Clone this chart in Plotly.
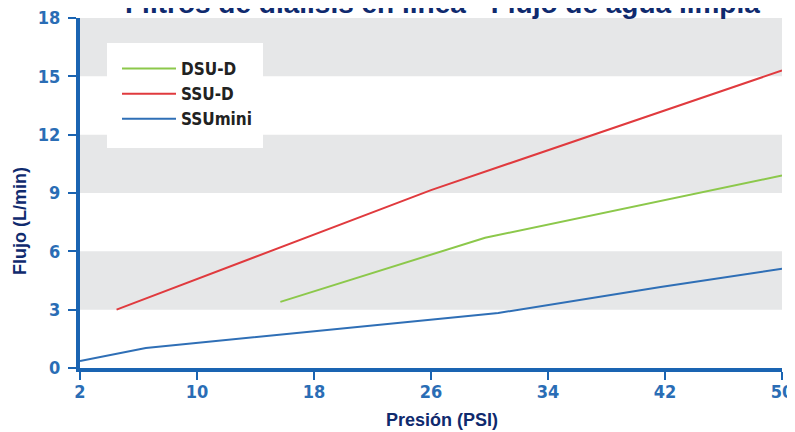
import plotly.graph_objects as go

# Data
ssud_x = [4.5, 26, 50]
ssud_y = [3.0, 9.15, 15.3]
dsud_x = [15.7, 29.7, 50]
dsud_y = [3.4, 6.7, 9.9]
mini_x = [2, 6.5, 30.6, 41.7, 50]
mini_y = [0.36, 1.03, 2.83, 4.17, 5.1]

x_ticks = [2, 10, 18, 26, 34, 42, 50]
y_ticks = [0, 3, 6, 9, 12, 15, 18]
grey_bands = [(3, 6), (9, 12), (15, 18)]

title_text = "Filtros de diálisis en línea - Flujo de agua limpia"
x_title = "Presión (PSI)"
y_title = "Flujo (L/min)"

AXIS_BLUE = "#1a64b2"
TICK_BLUE = "#2a6db5"
NAVY = "#0f2a6e"
cond_font = "Liberation Sans Narrow, DejaVu Sans Condensed, Roboto, sans-serif"
sans_font = "Liberation Sans, Arial, sans-serif"

# page has an 8px body margin: figure is offset by 8px
OFF = 8
W, H = 795 - OFF, 432 - OFF
L, T = 80 - OFF, 18 - OFF
R, B = 13, 64
PW, PH = W - L - R, H - T - B


def px(xp):  # page pixel -> paper x
    return (xp - OFF - L) / PW


def py(yp):  # page pixel -> paper y
    return (H - B - (yp - OFF)) / PH


fig = go.Figure()
fig.add_trace(go.Scatter(x=dsud_x, y=dsud_y, mode="lines", name="DSU-D",
                         line=dict(color="#8cc84b", width=2)))
fig.add_trace(go.Scatter(x=ssud_x, y=ssud_y, mode="lines", name="SSU-D",
                         line=dict(color="#e03a3e", width=2)))
fig.add_trace(go.Scatter(x=mini_x, y=mini_y, mode="lines", name="SSUmini",
                         line=dict(color="#2f6fb6", width=2)))

shapes = []
for lo, hi in grey_bands:
    shapes.append(dict(type="rect", xref="paper", yref="y", x0=0, x1=1, y0=lo, y1=hi,
                       fillcolor="#e6e7e8", line=dict(width=0), layer="below"))
# legend box
shapes.append(dict(type="rect", xref="paper", yref="paper",
                   x0=px(107), x1=px(263), y0=py(148), y1=py(43),
                   fillcolor="white", line=dict(width=0), layer="below"))

fig.update_layout(
    width=W, height=H,
    margin=dict(l=L, r=R, t=T, b=B, autoexpand=False),
    paper_bgcolor="white", plot_bgcolor="white",
    shapes=shapes,
    showlegend=True,
    legend=dict(x=px(117), y=py(51), xanchor="left", yanchor="top",
                bgcolor="rgba(0,0,0,0)", borderwidth=0,
                font=dict(family=cond_font, size=17, color="#222222", weight="bold"),
                itemwidth=54, tracegroupgap=0),
    annotations=[
        dict(text="<b>" + title_text + "</b>", xref="paper", yref="paper",
             x=px(442), y=py(21), xanchor="center", yanchor="bottom",
             showarrow=False, font=dict(family=sans_font, size=28, color=NAVY)),
        dict(text="<b>" + y_title + "</b>", xref="paper", yref="paper",
             x=px(20), y=py(221), xanchor="center", yanchor="middle", textangle=-90,
             showarrow=False, font=dict(family=sans_font, size=18, color=NAVY)),
        dict(text="<b>" + x_title + "</b>", xref="paper", yref="paper",
             x=px(442), y=py(420), xanchor="center", yanchor="middle",
             showarrow=False, font=dict(family=sans_font, size=18, color=NAVY)),
    ],
    xaxis=dict(range=[2, 50], tickvals=x_ticks, ticktext=[str(v) for v in x_ticks],
               automargin=False, showgrid=False, zeroline=False,
               showline=True, linecolor=AXIS_BLUE, linewidth=4,
               ticks="outside", ticklen=8, tickwidth=2, tickcolor=AXIS_BLUE,
               ticklabelstandoff=-4, ticklabeloverflow="allow",
               tickfont=dict(family=cond_font, size=18, color=TICK_BLUE, weight="bold")),
    yaxis=dict(range=[0, 18], tickvals=y_ticks, ticktext=[str(v) for v in y_ticks],
               automargin=False, showgrid=False, zeroline=False,
               showline=True, linecolor=AXIS_BLUE, linewidth=4,
               ticks="outside", ticklen=8, tickwidth=2, tickcolor=AXIS_BLUE,
               ticklabelstandoff=4, ticklabeloverflow="allow",
               tickfont=dict(family=cond_font, size=18, color=TICK_BLUE, weight="bold")),
)

fig.write_html("out.html")
